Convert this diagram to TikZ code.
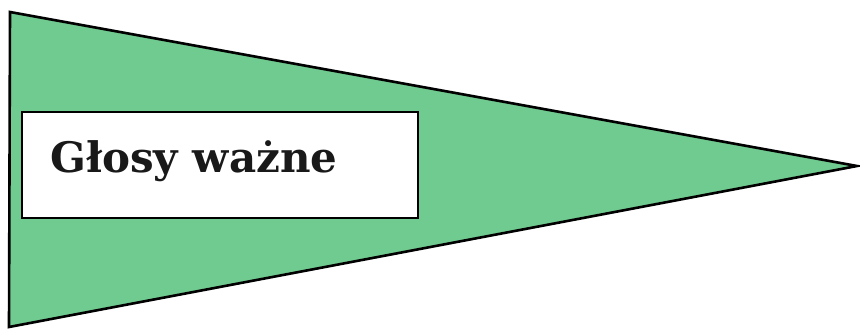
\documentclass[tikz,border=0pt]{standalone}
\usepackage{fontspec}
\newfontfamily\labelfont{DejaVu Serif}
\definecolor{pennant}{RGB}{112,203,144}
\begin{document}
\begin{tikzpicture}[x=1pt,y=-1pt,
  flag/.style={fill=pennant,draw=black,line width=2.6pt,line join=miter},
  labelbox/.style={fill=white,draw=black,line width=2pt}]
\useasboundingbox (0,0) rectangle (860,330);
\coordinate (tl) at (10,12);
\coordinate (bl) at (9,327);
\coordinate (tip) at (857,166);
\draw[flag] (tl) -- (tip) -- (bl) -- cycle;
\draw[labelbox] (22,112) rectangle (418,218);
\node[anchor=base west,inner sep=0pt,font=\labelfont\bfseries\fontsize{42}{48}\selectfont,text=black!90] (lbl) at (50,172) {Głosy ważne};
\end{tikzpicture}
\end{document}
